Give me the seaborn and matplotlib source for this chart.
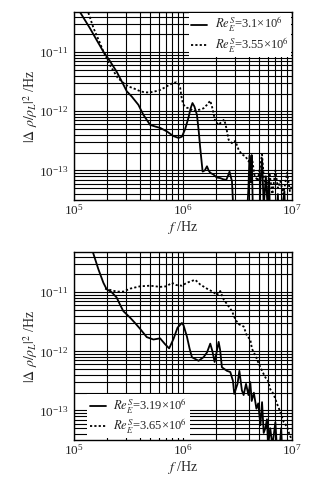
import numpy as np
import pandas as pd
import matplotlib
matplotlib.use('Agg')
import matplotlib.pyplot as plt
import seaborn as sns

# values, as log10(f) and log10(|d rho / rho_L|^2)
top_solid_logf = [5.03, 5.055, 5.147, 5.21, 5.27, 5.33, 5.392, 5.44, 5.484, 5.53, 5.591, 5.637,
                  5.699, 5.75, 5.79, 5.852, 5.913, 5.959, 5.99, 6.02, 6.05, 6.07, 6.087, 6.105,
                  6.128, 6.145, 6.158, 6.18, 6.20, 6.22, 6.235, 6.25, 6.28, 6.31, 6.342, 6.37,
                  6.397, 6.415, 6.427, 6.44, 6.449, 6.46, 6.50, 6.58, 6.60, 6.61, 6.62, 6.63,
                  6.64, 6.66, 6.70, 6.71, 6.725, 6.74, 6.76, 6.775, 6.79, 6.80, 6.85, 6.87,
                  6.88, 6.93, 6.94, 7.0]
top_solid_logp = [-10.15, -10.32, -10.595, -10.80, -10.99, -11.15, -11.33, -11.50, -11.66, -11.75,
                  -11.89, -12.06, -12.23, -12.26, -12.28, -12.34, -12.42, -12.45, -12.43, -12.30,
                  -12.11, -11.95, -11.86, -11.92, -12.06, -12.35, -12.62, -13.02, -13.00, -12.93,
                  -13.00, -13.04, -13.07, -13.12, -13.13, -13.15, -13.16, -13.08, -13.02, -13.12,
                  -13.18, -13.6, -14.0, -14.0, -13.3, -12.75, -13.2, -12.74, -13.6, -14.0,
                  -14.0, -13.2, -12.82, -13.6, -13.1, -13.6, -13.15, -14.0, -14.0, -13.4,
                  -14.0, -13.35, -14.0, -14.0]

top_dot_logf = [5.10, 5.13, 5.18, 5.24, 5.27, 5.33, 5.40, 5.453, 5.50, 5.545, 5.607, 5.65,
                5.699, 5.75, 5.79, 5.83, 5.867, 5.91, 5.938, 5.96, 5.974, 5.99, 6.005, 6.036,
                6.06, 6.097, 6.13, 6.158, 6.188, 6.22, 6.25, 6.27, 6.296, 6.327, 6.357, 6.379,
                6.397, 6.418, 6.449, 6.48, 6.51, 6.54, 6.572, 6.602, 6.633, 6.654, 6.685, 6.705,
                6.725, 6.74, 6.765, 6.795, 6.82, 6.847, 6.87, 6.893, 6.92, 6.955, 6.98, 7.0]
top_dot_logp = [-10.20, -10.32, -10.595, -10.85, -10.99, -11.22, -11.43, -11.52, -11.58, -11.61,
                -11.66, -11.68, -11.68, -11.66, -11.64, -11.60, -11.56, -11.52, -11.51, -11.54,
                -11.60, -11.80, -11.89, -11.94, -11.95, -12.00, -11.98, -11.97, -11.95, -11.89,
                -11.82, -11.95, -12.17, -12.23, -12.17, -12.14, -12.28, -12.48, -12.54, -12.50,
                -12.65, -12.73, -12.76, -12.85, -12.79, -13.07, -13.18, -12.95, -12.73, -13.10,
                -13.30, -13.07, -13.40, -13.00, -13.30, -13.18, -13.40, -13.04, -13.35, -13.25]

bot_solid_logf = [5.15, 5.177, 5.224, 5.27, 5.30, 5.346, 5.392, 5.42, 5.453, 5.515, 5.56, 5.607,
                  5.668, 5.729, 5.76, 5.79, 5.836, 5.873, 5.913, 5.95, 5.99, 6.005, 6.036, 6.06,
                  6.082, 6.143, 6.188, 6.22, 6.25, 6.27, 6.29, 6.31, 6.327, 6.34, 6.357, 6.403,
                  6.434, 6.458, 6.47, 6.50, 6.517, 6.54, 6.556, 6.578, 6.60, 6.617, 6.63, 6.65,
                  6.673, 6.69, 6.71, 6.725, 6.74, 6.755, 6.77, 6.78, 6.80, 6.82, 6.847, 6.86,
                  6.88, 6.90, 6.91, 6.95, 7.0]
bot_solid_logp = [-10.0, -10.34, -10.61, -10.84, -10.95, -11.00, -11.09, -11.20, -11.32, -11.43,
                  -11.52, -11.62, -11.76, -11.80, -11.79, -11.78, -11.88, -11.95, -11.79, -11.60,
                  -11.52, -11.56, -11.75, -11.95, -12.10, -12.16, -12.10, -12.02, -11.87, -12.00,
                  -12.18, -12.00, -11.84, -11.97, -12.27, -12.33, -12.35, -12.50, -12.72, -12.55,
                  -12.33, -12.66, -12.74, -12.55, -12.74, -12.52, -12.84, -12.70, -12.97, -12.88,
                  -13.25, -12.86, -13.38, -13.30, -13.15, -13.60, -13.30, -13.60, -13.20, -13.60,
                  -13.80, -13.30, -13.70, -14.0, -14.0]

bot_dot_logf = [5.285, 5.33, 5.392, 5.453, 5.515, 5.607, 5.70, 5.79, 5.85, 5.898, 5.94, 5.99,
                6.036, 6.08, 6.112, 6.158, 6.22, 6.28, 6.31, 6.342, 6.372, 6.403, 6.449, 6.48,
                6.51, 6.556, 6.587, 6.617, 6.633, 6.664, 6.695, 6.725, 6.755, 6.78, 6.80, 6.83,
                6.863, 6.893, 6.924, 6.955, 6.979, 7.0]
bot_dot_logp = [-10.94, -10.96, -10.99, -10.99, -10.94, -10.90, -10.89, -10.91, -10.90, -10.84,
                -10.88, -10.89, -10.84, -10.81, -10.79, -10.87, -10.94, -11.00, -11.05, -10.98,
                -11.12, -11.20, -11.32, -11.46, -11.54, -11.58, -11.74, -11.80, -11.96, -12.07,
                -12.21, -12.33, -12.44, -12.50, -12.64, -12.72, -12.89, -13.03, -13.20, -13.28,
                -13.42, -13.50]

top_labels = [r'$\mathit{Re}_E^S$=3.1×10$^6$', r'$\mathit{Re}_E^S$=3.55×10$^6$']
bot_labels = [r'$\mathit{Re}_E^S$=3.19×10$^6$', r'$\mathit{Re}_E^S$=3.65×10$^6$']

sns.set_style('white')
plt.rcParams['font.family'] = ['Liberation Serif', 'DejaVu Serif']
plt.rcParams['mathtext.fontset'] = 'stix'
plt.rcParams['font.size'] = 9


def make_df(logf, logp, label):
    return pd.DataFrame({'f': 10.0 ** np.array(logf), 'p': 10.0 ** np.array(logp), 'run': label})


fig = plt.figure(figsize=(3.3, 4.79), dpi=100)
ax1 = fig.add_axes([0.224, 0.5825, 0.661, 0.3925])
ax2 = fig.add_axes([0.224, 0.0814, 0.661, 0.3925])

panels = [
    (ax1, top_solid_logf, top_solid_logp, top_dot_logf, top_dot_logp, top_labels),
    (ax2, bot_solid_logf, bot_solid_logp, bot_dot_logf, bot_dot_logp, bot_labels),
]

for ax, sf, sp, df_, dp, labels in panels:
    ax.set_xscale('log')
    ax.set_yscale('log')
    sns.lineplot(data=make_df(sf, sp, labels[0]), x='f', y='p', ax=ax, color='black',
                 lw=1.3, estimator=None, sort=False, label=labels[0])
    sns.lineplot(data=make_df(df_, dp, labels[1]), x='f', y='p', ax=ax, color='black',
                 lw=1.3, estimator=None, sort=False, label=labels[1], linestyle=(0, (1.2, 1.2)))
    ax.set_xlim(1e5, 1e7)
    ax.set_ylim(10 ** -13.5, 10 ** -10.32)
    ax.set_axisbelow(True)
    ax.grid(True, which='both', color='black', lw=0.8)
    ax.tick_params(which='both', length=0, labelsize=9.5)
    ax.tick_params(axis='x', pad=2)
    ax.tick_params(axis='y', pad=4)
    ax.set_xticks([1e5, 1e6, 1e7])
    ax.set_yticks([1e-13, 1e-12, 1e-11])
    for s in ax.spines.values():
        s.set_color('black')
        s.set_linewidth(1.0)
    ax.set_xlabel(r'$f$ /Hz', fontsize=10, labelpad=1)
    ax.set_ylabel(r'$|\Delta\ \rho/\rho_L|^2$ /Hz', fontsize=10, labelpad=-1)

leg1 = ax1.legend(loc='upper right', frameon=True, fancybox=False, edgecolor='none',
                  facecolor='white', framealpha=1, handlelength=1.3, handletextpad=0.6,
                  borderpad=0.2, borderaxespad=0.05, labelspacing=0.05, fontsize=9)
leg2 = ax2.legend(loc='lower left', bbox_to_anchor=(0.06, 0.01), frameon=True, fancybox=False,
                  edgecolor='none', facecolor='white', framealpha=1, handlelength=1.3,
                  handletextpad=0.6, borderpad=0.2, borderaxespad=0.0, labelspacing=0.05,
                  fontsize=9)

fig.savefig('out.png', dpi=100)
